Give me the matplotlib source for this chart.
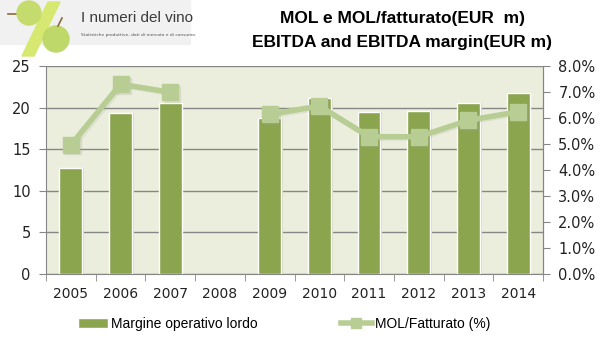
import numpy as np
import matplotlib
matplotlib.use("Agg")
import matplotlib.pyplot as plt
from matplotlib.patches import Rectangle, Circle, Polygon

years = ["2005", "2006", "2007", "2008", "2009", "2010", "2011", "2012", "2013", "2014"]
mol = [12.8, 19.3, 20.6, np.nan, 18.7, 21.2, 19.5, 19.6, 20.6, 21.8]
margin = [4.96, 7.3, 6.99, np.nan, 6.14, 6.46, 5.28, 5.28, 5.91, 6.24]

bar_color = "#8AA54E"
line_color = "#B8CD94"
grid_color = "#868686"

plt.rcParams["font.family"] = ["DejaVu Sans"]

fig = plt.figure(figsize=(6.04, 3.53), dpi=100)
fig.patch.set_facecolor("white")

ax = fig.add_axes([46 / 604, 1 - 274 / 353, 497 / 604, 208 / 353])
ax.set_facecolor("#EBEEDD")
x = np.arange(len(years))

# bars with a faint shadow
ax.bar(x + 0.035, mol, width=0.46, color="#D3D6C4", zorder=2)
bars = ax.bar(x, mol, width=0.46, color=bar_color, edgecolor="white",
              linewidth=1, zorder=3, label="Margine operativo lordo")

ax.set_xlim(-0.5, len(years) - 0.5)
ax.set_ylim(0, 25)
ax.set_yticks(range(0, 26, 5))
ax.yaxis.grid(True, color=grid_color, linewidth=1)
ax.set_axisbelow(True)
ax.set_xticks(x)
ax.set_xticklabels(years)
ax.set_xticks(np.arange(-0.5, len(years)), minor=True)
ax.tick_params(axis="x", which="major", length=0, pad=9, labelsize=10, colors="#222222")
ax.tick_params(axis="x", which="minor", length=5, color=grid_color, direction="out")
ax.tick_params(axis="y", length=5, color=grid_color, labelsize=10.5, labelcolor="#222222", pad=6)
ax.spines["top"].set_visible(False)
for s in ["left", "bottom", "right"]:
    ax.spines[s].set_color(grid_color)

ax2 = ax.twinx()
# soft shadow under the line
ax2.plot(x + 0.04, np.array(margin) - 0.05, color="#9FA38E", lw=4, marker="s",
         ms=11, alpha=0.18, zorder=4)
line, = ax2.plot(x, margin, color=line_color, lw=4, marker="s", ms=11,
                 markeredgecolor=line_color, zorder=5, label="MOL/Fatturato (%)")
ax2.set_ylim(0, 8)
ax2.set_yticks(range(0, 9))
ax2.set_yticklabels([f"{v:.1f}%" for v in range(0, 9)])
ax2.tick_params(axis="y", length=5, color=grid_color, labelsize=10.5, labelcolor="#222222", pad=6)
for s in ["top", "left", "bottom"]:
    ax2.spines[s].set_visible(False)
ax2.spines["right"].set_color(grid_color)

# title
fig.text(402 / 604, 1 - 18 / 353, "MOL e MOL/fatturato(EUR  m)", ha="center", va="center",
         fontsize=12.5, fontweight="bold", family="Liberation Sans")
fig.text(402 / 604, 1 - 42 / 353, "EBITDA and EBITDA margin(EUR m)", ha="center", va="center",
         fontsize=12.5, fontweight="bold", family="Liberation Sans")

# logo
lg = fig.add_axes([0, 1 - 58 / 353, 200 / 604, 58 / 353])
lg.set_xlim(0, 200)
lg.set_ylim(58, 0)
lg.axis("off")
lg.add_patch(Rectangle((0, 0), 190, 44, color="#F1F1F1", zorder=0))
lg.add_patch(Polygon([[48, 2], [60, 2], [34, 56], [22, 56]], closed=True,
                     color="#D6E870", zorder=2))
lg.add_patch(Circle((29, 13), 12, color="#C5DB6E", zorder=3))
lg.add_patch(Circle((56, 39), 13, color="#BFD86A", zorder=3))
lg.plot([8, 18], [14, 14], color="#8A6A3A", lw=1.2, zorder=2)
lg.plot([58, 62], [26, 18], color="#8A6A3A", lw=1.2, zorder=4)
lg.text(81, 18, "I numeri del vino", fontsize=11, color="#3A3A3A", va="center",
        family="Liberation Sans", fontweight="medium")
lg.text(81, 35, "Statistiche produttive, dati di mercato e di consumo.", fontsize=3.2,
        color="#555555", va="center")

fig.legend(handles=[bars, line], loc="center", bbox_to_anchor=(0.47, 1 - 324 / 353),
           ncol=2, frameon=False, columnspacing=6, handlelength=2.2, markerscale=0.6,
           handletextpad=0.2, prop={"family": "Liberation Sans", "size": 10})

fig.savefig("out.png", dpi=100)
